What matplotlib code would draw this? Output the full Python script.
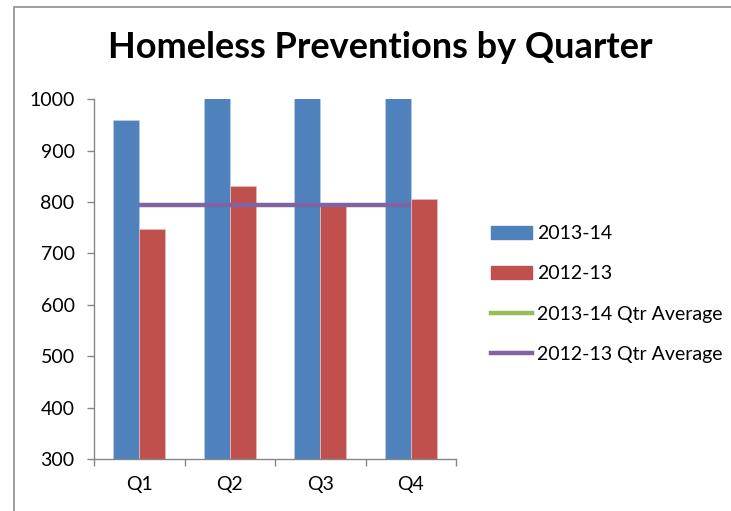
import numpy as np
import matplotlib.pyplot as plt
from matplotlib.patches import Patch, Rectangle
from matplotlib.lines import Line2D

plt.rcParams['font.family'] = ['Lato', 'DejaVu Sans']

quarters = ['Q1', 'Q2', 'Q3', 'Q4']
prev_1314 = [960, 1040, 1090, 1070]   # Q2-Q4 run past the 1000 axis limit
prev_1213 = [747, 831, 792, 806]

avg_1314 = np.mean(prev_1314)
avg_1213 = np.mean(prev_1213)

blue = '#4F81BD'
red = '#C0504D'
green = '#9BBB59'
purple = '#8064A2'
axis_grey = '#868686'

fig = plt.figure(figsize=(7.31, 5.11), dpi=100)
ax = fig.add_axes([94 / 731, 1 - 459 / 511, (456 - 94) / 731, (459 - 99.3) / 511])

x = np.arange(len(quarters))
w = 0.286
ax.bar(x - w / 2, prev_1314, w, color=blue, edgecolor='#B9CDE5', linewidth=0.6)
ax.bar(x + w / 2, prev_1213, w, color=red, edgecolor='#E6B9B8', linewidth=0.6)
ax.plot(x, [avg_1314] * len(x), color=green, lw=3.2, solid_capstyle='butt')
ax.plot(x, [avg_1213] * len(x), color=purple, lw=3.2, solid_capstyle='butt')

ax.set_xlim(-0.5, 3.5)
ax.set_ylim(300, 1000)
ax.set_yticks(np.arange(300, 1001, 100))
ax.set_xticks(x)
ax.set_xticklabels(quarters)
ax.set_xticks(np.arange(-0.5, 4, 1), minor=True)
ax.tick_params(axis='x', which='major', length=0, pad=12, labelsize=14)
ax.tick_params(axis='x', which='minor', length=5, color=axis_grey, width=1)
ax.tick_params(axis='y', length=5, color=axis_grey, width=1, labelsize=14, pad=9)
for s in ['top', 'right']:
    ax.spines[s].set_visible(False)
for s in ['left', 'bottom']:
    ax.spines[s].set_color(axis_grey)
    ax.spines[s].set_linewidth(1)

fig.text(380 / 731, 1 - 48 / 511, 'Homeless Preventions by Quarter',
         ha='center', va='center', fontsize=26, fontweight='bold')

handles = [Patch(color=blue), Patch(color=red),
           Line2D([], [], color=green, lw=3.2),
           Line2D([], [], color=purple, lw=3.2)]
labels = ['2013-14', '2012-13', '2013-14 Qtr Average', '2012-13 Qtr Average']
fig.legend(handles, labels, loc='center left',
           bbox_to_anchor=(473 / 731, 1 - 294 / 511), frameon=False,
           fontsize=14, handlelength=2.15, handleheight=0.65,
           handletextpad=0.25, labelspacing=1.2)

# chart area border (only top and left edges fall inside the image)
fig.patches.append(Rectangle((14 / 731, -0.1), 1.2, 1 - 7 / 511 + 0.1,
                             transform=fig.transFigure, fill=False,
                             edgecolor='#8C8C8C', linewidth=1.2))

fig.savefig('out.png', dpi=100)
